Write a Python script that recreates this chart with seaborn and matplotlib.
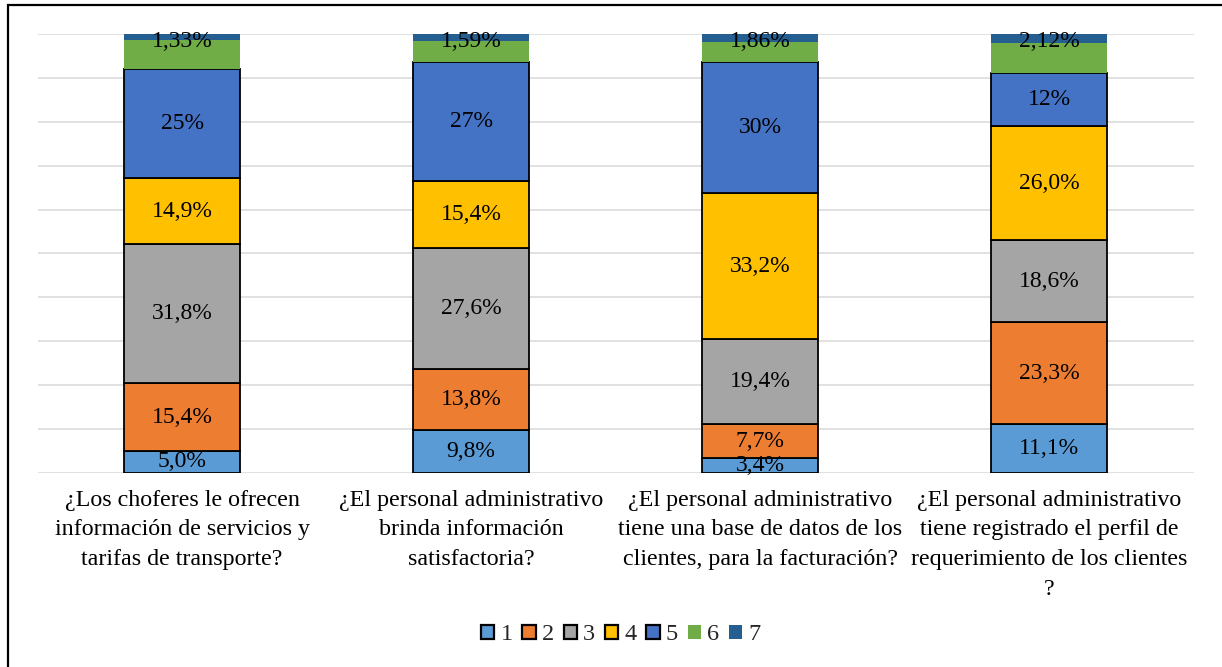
import matplotlib
matplotlib.use("Agg")
import matplotlib.pyplot as plt
from matplotlib.patches import Rectangle, Patch
import numpy as np
import pandas as pd
import seaborn as sns

# Survey questions (x categories)
preguntas = [
    "¿Los choferes le ofrecen\ninformación de servicios y\ntarifas de transporte?",
    "¿El personal administrativo\nbrinda información\nsatisfactoria?",
    "¿El personal administrativo\ntiene una base de datos de los\nclientes, para la facturación?",
    "¿El personal administrativo\ntiene registrado el perfil de\nrequerimiento de los clientes\n?",
]

# Percentage of answers per scale point (1..7)
serie_1 = [5.0, 9.8, 3.4, 11.1]
serie_2 = [15.4, 13.8, 7.7, 23.3]
serie_3 = [31.8, 27.6, 19.4, 18.6]
serie_4 = [14.9, 15.4, 33.2, 26.0]
serie_5 = [25.0, 27.0, 30.0, 12.0]
serie_6 = [6.57, 4.81, 4.44, 6.88]
serie_7 = [1.33, 1.59, 1.86, 2.12]

nombres = ["1", "2", "3", "4", "5", "6", "7"]
series = [serie_1, serie_2, serie_3, serie_4, serie_5, serie_6, serie_7]
colores = ["#5B9BD5", "#ED7D31", "#A5A5A5", "#FFC000", "#4472C4", "#70AD47", "#255E91"]
con_borde = [True, True, True, True, True, False, False]
decimales = [1, 1, 1, 1, 0, None, 2]  # None: segment without a data label

sns.set_theme(style="white")
plt.rcParams["font.family"] = ["Liberation Serif", "DejaVu Serif"]

df = pd.DataFrame({"pregunta": preguntas})
for n, s in zip(nombres, series):
    df[n] = s

fig = plt.figure(figsize=(12.22, 6.67), dpi=100)
ax = fig.add_axes([0.0307, 0.2909, 0.946, 0.6582])

base = np.zeros(len(preguntas))
for n, s, c, borde, dec in zip(nombres, series, colores, con_borde, decimales):
    vals = np.array(s, dtype=float)
    sns.barplot(
        data=df, x="pregunta", y=n, order=preguntas, color=c, width=0.4,
        bottom=base, edgecolor="black" if borde else c,
        linewidth=1.3 if borde else 0, saturation=1, ax=ax, zorder=3,
    )
    if dec is not None:
        for i, v in enumerate(vals):
            txt = f"{v:.{dec}f}".replace(".", ",") + "%"
            # keep labels inside the plotting area
            y = min(base[i] + v / 2, 98.2)
            ax.text(i, y, txt, ha="center", va="center",
                    fontsize=17, color="black", zorder=5)
    base = base + vals

ax.set_xlim(-0.5, len(preguntas) - 0.5)
ax.set_ylim(0, 100)
ax.set_yticks(np.arange(0, 101, 10))
ax.yaxis.grid(True, color="#d9d9d9", linewidth=1.1, zorder=0)
ax.set_axisbelow(True)
ax.tick_params(axis="y", left=False, labelleft=False)
ax.tick_params(axis="x", length=0, pad=12, labelsize=17.3, colors="black")
for lbl in ax.get_xticklabels():
    lbl.set_linespacing(1.55)
ax.set_xlabel("")
ax.set_ylabel("")
for sp in ax.spines.values():
    sp.set_visible(False)

handles = [
    Patch(facecolor=c, edgecolor="black" if b else c, linewidth=1.6 if b else 0, label=n)
    for n, c, b in zip(nombres, colores, con_borde)
]
fig.legend(handles=handles, loc="center", bbox_to_anchor=(0.508, 0.048), ncol=7,
           frameon=False, fontsize=17.5, handlelength=0.55, handleheight=0.55,
           handletextpad=0.25, columnspacing=0.4)

# Outer frame of the figure
fig.patches.append(Rectangle((8 / 1222, -0.1), 1.2, 0.1 + (1 - 5 / 667),
                             transform=fig.transFigure, fill=False,
                             edgecolor="black", linewidth=1.6, clip_on=False))

fig.savefig("out.png", dpi=100)
